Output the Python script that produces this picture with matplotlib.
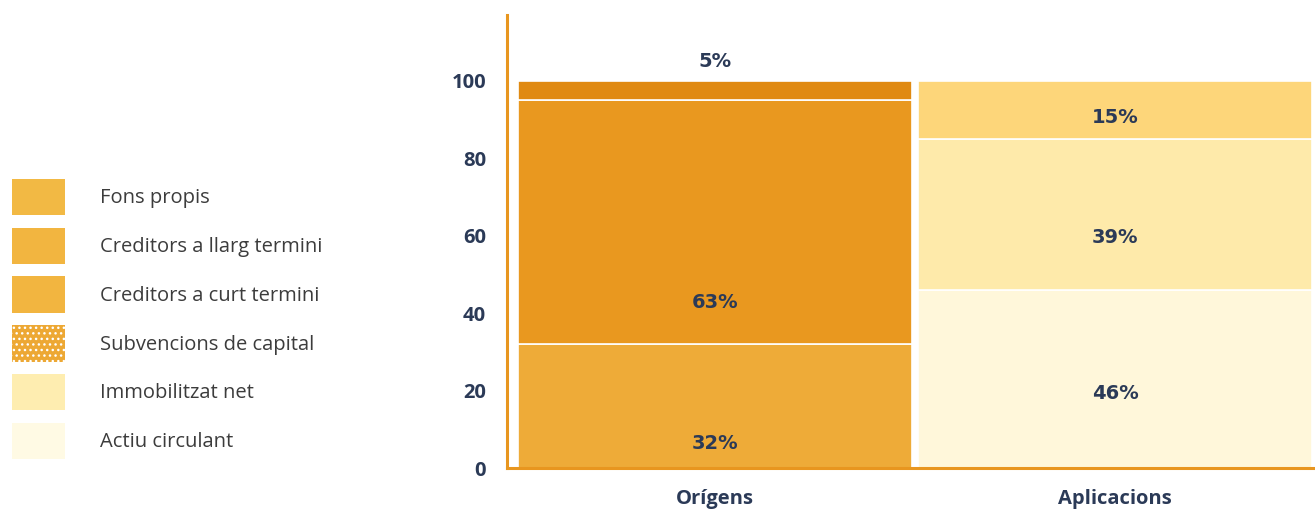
import matplotlib
matplotlib.use("Agg")
import matplotlib.pyplot as plt
from matplotlib.patches import Patch

# ---- data ----
categories = ["Orígens", "Aplicacions"]
origens_values = [32, 63, 5]
aplicacions_values = [46, 39, 15]
yticks = [0, 20, 40, 60, 80, 100]
legend_labels = ["Fons propis", "Creditors a llarg termini", "Creditors a curt termini",
                 "Subvencions de capital", "Immobilitzat net", "Actiu circulant"]

# ---- style ----
origens_colors = ["#EEAB38", "#E9981F", "#E08A12"]
aplic_colors = ["#FFF7DA", "#FEEAAA", "#FDD67A"]
legend_colors = ["#F2B944", "#F2B540", "#F2B540", "#EDA834", "#FEEDB0", "#FFFAE4"]
label_frac = {0: [0.20, 0.17, None], 1: [0.42, 0.35, 0.37]}
navy = "#2B3A57"
spine_col = "#E8961F"
num_font = ['DejaVu Sans']

plt.rcParams['font.family'] = ['Open Sans', 'DejaVu Sans']

fig = plt.figure(figsize=(13.15, 5.15), dpi=100)
ax = fig.add_axes([507/1315, 47/515, 1 - 507/1315, 453/515])

x = [0, 1]
width = 0.985
for xi, vals, cols in [(0, origens_values, origens_colors), (1, aplicacions_values, aplic_colors)]:
    bottom = 0
    for j, (v, c) in enumerate(zip(vals, cols)):
        ax.bar(xi, v, width=width, bottom=bottom, color=c, edgecolor="white", linewidth=1.2)
        f = label_frac[xi][j]
        if f is None:
            ty = bottom + v + 5.0
        else:
            ty = bottom + v * f
        ax.text(xi, ty, f"{v}%", ha="center", va="center", fontsize=14,
                fontweight="bold", color=navy, family=num_font)
        bottom += v

ax.set_xlim(-0.52, 1.5)
ax.set_ylim(0, 117)
ax.set_yticks(yticks)
ax.set_yticklabels([str(t) for t in yticks], fontsize=14.5, fontweight="bold", color=navy)
ax.set_xticks(x)
ax.set_xticklabels(categories, fontsize=14.5, fontweight="bold", color=navy)
ax.tick_params(axis="both", length=0)
ax.tick_params(axis="y", pad=15)
ax.tick_params(axis="x", pad=15)
for s in ["top", "right"]:
    ax.spines[s].set_visible(False)
for s in ["left", "bottom"]:
    ax.spines[s].set_color(spine_col)
    ax.spines[s].set_linewidth(2.2)

handles = []
for i, (lab, c) in enumerate(zip(legend_labels, legend_colors)):
    if i == 3:
        handles.append(Patch(facecolor=c, edgecolor="white", hatch="...", linewidth=0, label=lab))
    else:
        handles.append(Patch(facecolor=c, edgecolor=c, linewidth=0, label=lab))
fs = 14.5
leg = fig.legend(handles=handles, loc="upper left", bbox_to_anchor=(0.009, 0.653),
                 frameon=False, fontsize=fs, handlelength=2.65, handleheight=2.4,
                 labelspacing=0.62, handletextpad=1.75, borderaxespad=0, borderpad=0)
for t in leg.get_texts():
    t.set_color("#3C3C3C")

fig.savefig("out.png", dpi=100)
